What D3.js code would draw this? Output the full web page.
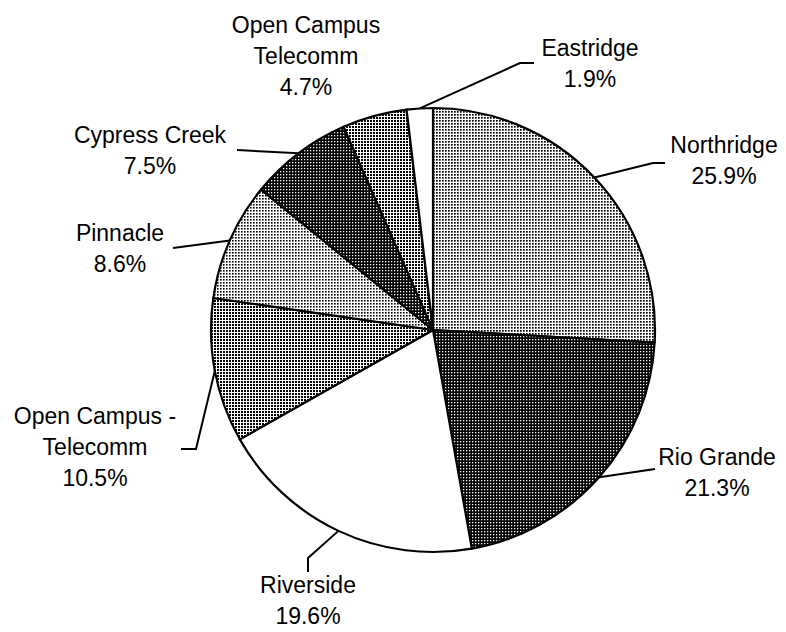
<!DOCTYPE html>
<html>
<head>
<meta charset="utf-8">
<script src="https://cdn.jsdelivr.net/npm/d3@7"></script>
<style>
  html, body { margin: 0; padding: 0; background: #fff; }
  svg text { font-family: "Liberation Sans", Arial, sans-serif; font-size: 23px; fill: #000; }
</style>
</head>
<body>
<svg id="chart"></svg>
<script>
// data
const schools = ['Northridge', 'Rio Grande', 'Riverside', 'Open Campus - Telecomm',
  'Pinnacle', 'Cypress Creek', 'Open Campus Telecomm', 'Eastridge']
const shares = [25.9, 21.3, 19.6, 10.5, 8.6, 7.5, 4.7, 1.9]
const labelLines = [
  ['Northridge'], ['Rio Grande'], ['Riverside'], ['Open Campus -', 'Telecomm'],
  ['Pinnacle'], ['Cypress Creek'], ['Open Campus', 'Telecomm'], ['Eastridge']
]

// layout (label centre of first line, leader bend points after the pie edge)
const labelAt = [[724, 145], [717, 457], [308, 585], [95, 416], [120, 233], [150, 135], [306, 25], [590, 48]]
const leaderBends = [
  [[653, 163], [665, 163]],
  [[655, 469]],
  [[308, 558], [308, 572]],
  [[196, 449], [181, 449]],
  [[173, 248]],
  [[237, 150]],
  null,
  [[520, 63], [534, 63]]
]
const fillStyle = ['light', 'dark', 'white', 'medium', 'light2', 'dark', 'medium', 'white']

const width = 786, height = 632
const cx = 433, cy = 330, radius = 222
const lineGap = 31

const svg = d3.select('#chart').attr('width', width).attr('height', height)

// dotted screens like the scanned original
const defs = svg.append('defs')
function dotPattern(id, size, bg, dot, dotSize) {
  const p = defs.append('pattern').attr('id', id)
    .attr('patternUnits', 'userSpaceOnUse').attr('width', size).attr('height', size)
  p.append('rect').attr('width', size).attr('height', size).attr('fill', bg)
  p.append('rect').attr('width', dotSize).attr('height', dotSize).attr('fill', dot)
}
dotPattern('light', 3, '#fff', '#000', 1.7)
dotPattern('light2', 3, '#fff', '#000', 1.6)
dotPattern('dark', 3, '#000', '#fff', 1.3)
const med = defs.append('pattern').attr('id', 'medium')
  .attr('patternUnits', 'userSpaceOnUse').attr('width', 3).attr('height', 3)
med.append('rect').attr('width', 3).attr('height', 3).attr('fill', '#fff')
med.append('rect').attr('width', 2).attr('height', 2).attr('fill', '#000')

const fillFor = s => s === 'white' ? '#fff' : `url(#${s})`

const pie = d3.pie().sort(null).value(d => d)
const arcs = pie(shares)
const arc = d3.arc().innerRadius(0).outerRadius(radius)
const edgeArc = d3.arc().innerRadius(radius).outerRadius(radius)

const g = svg.append('g').attr('transform', `translate(${cx},${cy})`)

g.selectAll('path.slice')
  .data(arcs)
  .enter()
  .append('path')
  .attr('class', 'slice')
  .attr('d', arc)
  .attr('fill', (d, i) => fillFor(fillStyle[i]))
  .attr('stroke', '#000')
  .attr('stroke-width', 2.2)
  .attr('stroke-linejoin', 'round')

// leader lines
const line = d3.line()
arcs.forEach((d, i) => {
  if (!leaderBends[i]) return
  const [ex, ey] = edgeArc.centroid(d)
  const pts = [[cx + ex, cy + ey], ...leaderBends[i]]
  svg.append('path')
    .attr('d', line(pts))
    .attr('fill', 'none')
    .attr('stroke', '#000')
    .attr('stroke-width', 2)
})

// labels
arcs.forEach((d, i) => {
  const [lx, ly] = labelAt[i]
  const lines = [...labelLines[i], `${shares[i].toFixed(1)}%`]
  const t = svg.append('text').attr('text-anchor', 'middle')
  lines.forEach((s, k) => {
    t.append('tspan')
      .attr('x', lx)
      .attr('y', ly + k * lineGap + 8)
      .text(s)
  })
})
</script>
</body>
</html>
